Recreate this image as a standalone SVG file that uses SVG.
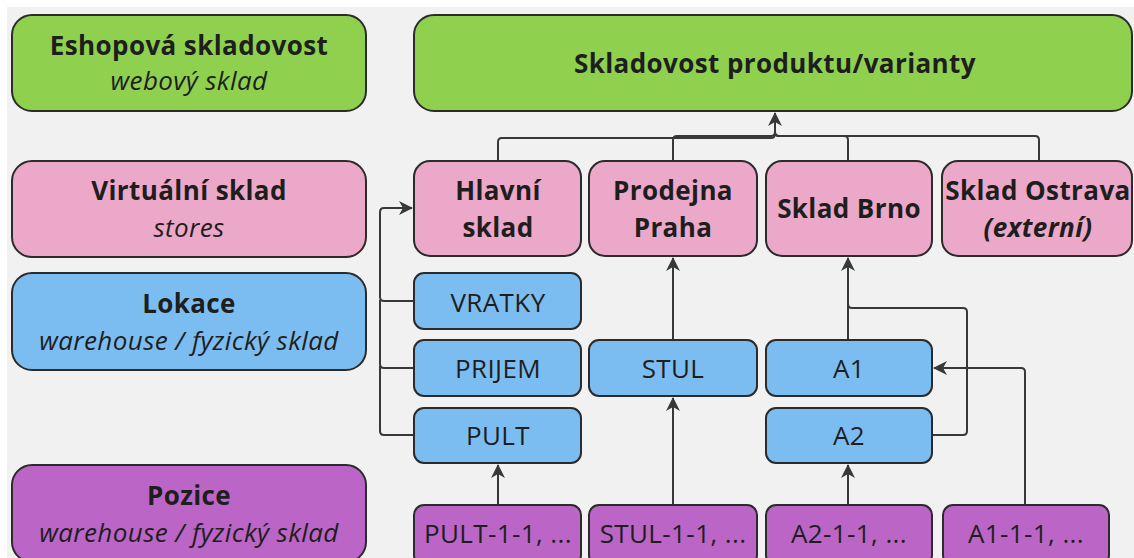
<svg xmlns="http://www.w3.org/2000/svg" width="1134" height="558" viewBox="0 0 1134 558">
<style>
text{font-family:"Open Sans","Noto Sans","DejaVu Sans",sans-serif;font-size:26px;letter-spacing:0.4px;fill:#1e1e1e;text-anchor:middle}
.b{font-weight:700}
.i{font-style:italic}
.box{stroke:#2b2b2b;stroke-width:2}
.g{fill:#8fd14f}.p{fill:#eba8c8}.bl{fill:#7cbdf1}.pu{fill:#bb66c6}
.c{fill:none;stroke:#383838;stroke-width:2}
</style>
<defs>
<marker id="ah" viewBox="0 0 14 14" refX="13" refY="7" markerWidth="14" markerHeight="14" markerUnits="userSpaceOnUse" orient="auto">
<path d="M0,0 L14,7 L0,14 L4,7 Z" fill="#383838"/>
</marker>
</defs>
<rect x="0" y="0" width="1134" height="558" fill="#ffffff"/>
<rect x="7" y="7" width="1127" height="551" fill="#f1f1f1"/>

<g id="connectors">
<path class="c" d="M498,161 V142 Q498,138 502,138 H771 Q775,138 775,134 V113" marker-end="url(#ah)"/>
<path class="c" d="M673,161 V140 Q673,136 677,136 H771 Q775,136 775,132"/>
<path class="c" d="M848,161 V140 Q848,136 844,136 H779 Q775,136 775,132"/>
<path class="c" d="M1039,161 V140 Q1039,136 1035,136 H779 Q775,136 775,132"/>
<path class="c" d="M414,301 H384 Q380,301 380,297 V212 Q380,208 384,208 H412" marker-end="url(#ah)"/>
<path class="c" d="M414,368 H384 Q380,368 380,364 V300"/>
<path class="c" d="M414,435 H384 Q380,435 380,431 V366"/>
<path class="c" d="M498,505 V465" marker-end="url(#ah)"/>
<path class="c" d="M673,505 V398" marker-end="url(#ah)"/>
<path class="c" d="M673,340 V258" marker-end="url(#ah)"/>
<path class="c" d="M848,505 V465" marker-end="url(#ah)"/>
<path class="c" d="M848,340 V258" marker-end="url(#ah)"/>
<path class="c" d="M932,435 H963 Q967,435 967,431 V312 Q967,308 963,308 H852 Q848,308 848,304"/>
<path class="c" d="M1025,505 V372 Q1025,368 1021,368 H934" marker-end="url(#ah)"/>
</g>

<g id="legend-eshop">
<rect class="box g" x="12" y="15" width="354" height="96" rx="20"/>
<text class="b" x="189" y="55">Eshopová skladovost</text>
<text class="i" x="189" y="90">webový sklad</text>
</g>
<g id="legend-virtual">
<rect class="box p" x="12" y="161" width="354" height="96" rx="20"/>
<text class="b" x="189" y="200">Virtuální sklad</text>
<text class="i" x="189" y="237">stores</text>
</g>
<g id="legend-lokace">
<rect class="box bl" x="12" y="273" width="354" height="97" rx="20"/>
<text class="b" x="189" y="313">Lokace</text>
<text class="i" x="189" y="350">warehouse / fyzický sklad</text>
</g>
<g id="legend-pozice">
<rect class="box pu" x="12" y="465" width="354" height="97" rx="20"/>
<text class="b" x="189" y="505">Pozice</text>
<text class="i" x="189" y="542">warehouse / fyzický sklad</text>
</g>

<g id="skladovost">
<rect class="box g" x="414" y="15" width="718" height="96" rx="20"/>
<text class="b" x="775" y="73">Skladovost produktu/varianty</text>
</g>

<g id="hlavni-sklad">
<rect class="box p" x="414" y="161" width="167" height="95" rx="16"/>
<text class="b" x="498" y="200">Hlavní</text>
<text class="b" x="498" y="237">sklad</text>
</g>
<g id="prodejna-praha">
<rect class="box p" x="589" y="161" width="168" height="95" rx="16"/>
<text class="b" x="673" y="200">Prodejna</text>
<text class="b" x="673" y="237">Praha</text>
</g>
<g id="sklad-brno">
<rect class="box p" x="766" y="161" width="166" height="95" rx="16"/>
<text class="b" x="849" y="218">Sklad Brno</text>
</g>
<g id="sklad-ostrava">
<rect class="box p" x="942" y="161" width="190" height="95" rx="16"/>
<text class="b" x="1038" y="200">Sklad Ostrava</text>
<text class="b i" x="1038" y="237">(externí)</text>
</g>

<g id="vratky">
<rect class="box bl" x="414" y="273" width="167" height="56" rx="10"/>
<text x="498" y="312">VRATKY</text>
</g>
<g id="prijem">
<rect class="box bl" x="414" y="340" width="167" height="56" rx="10"/>
<text x="498" y="378">PRIJEM</text>
</g>
<g id="pult">
<rect class="box bl" x="414" y="408" width="167" height="55" rx="10"/>
<text x="498" y="445">PULT</text>
</g>
<g id="stul">
<rect class="box bl" x="589" y="340" width="168" height="56" rx="10"/>
<text x="673" y="378">STUL</text>
</g>
<g id="a1">
<rect class="box bl" x="766" y="340" width="166" height="56" rx="10"/>
<text x="849" y="378">A1</text>
</g>
<g id="a2">
<rect class="box bl" x="766" y="408" width="166" height="55" rx="10"/>
<text x="849" y="445">A2</text>
</g>

<g id="pult-pozice">
<rect class="box pu" x="414" y="505" width="167" height="60" rx="10"/>
<text x="498" y="543">PULT-1-1, ...</text>
</g>
<g id="stul-pozice">
<rect class="box pu" x="589" y="505" width="168" height="60" rx="10"/>
<text x="673" y="543">STUL-1-1, ...</text>
</g>
<g id="a2-pozice">
<rect class="box pu" x="766" y="505" width="166" height="60" rx="10"/>
<text x="849" y="543">A2-1-1, ...</text>
</g>
<g id="a1-pozice">
<rect class="box pu" x="943" y="505" width="166" height="60" rx="10"/>
<text x="1026" y="543">A1-1-1, ...</text>
</g>
</svg>
